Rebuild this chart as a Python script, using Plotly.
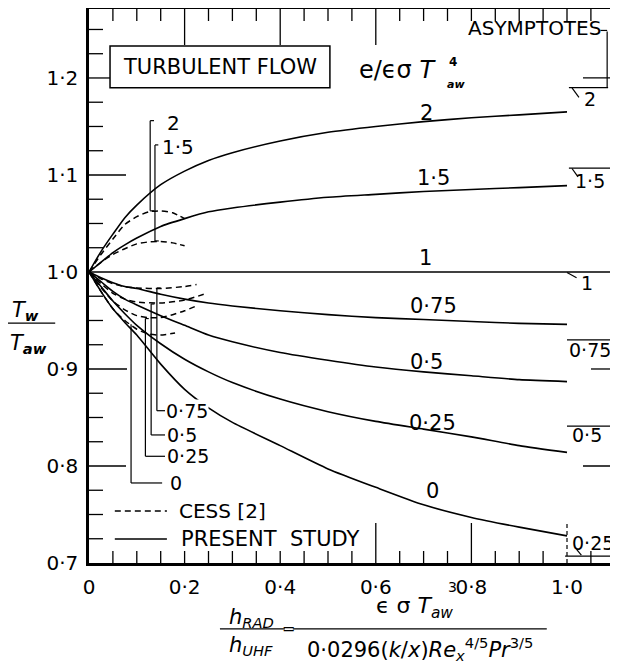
import plotly.graph_objects as go

# ---------------- data ----------------
X = [0, 0.025, 0.05, 0.075, 0.1, 0.15, 0.2, 0.25, 0.3, 0.4, 0.5, 0.6, 0.7, 0.8, 0.9, 1.0]
PS_2 = [1.0, 1.021, 1.039, 1.056, 1.069, 1.090, 1.104, 1.115, 1.123, 1.135, 1.144, 1.150, 1.155, 1.159, 1.162, 1.165]
PS_15 = [1.0, 1.010, 1.020, 1.028, 1.035, 1.047, 1.055, 1.062, 1.066, 1.072, 1.077, 1.080, 1.083, 1.085, 1.087, 1.089]
PS_1 = [1.0, 1.0, 1.0, 1.0, 1.0, 1.0, 1.0, 1.0, 1.0, 1.0, 1.0, 1.0, 1.0, 1.0, 1.0, 1.0]
PS_075 = [1.0, 0.994, 0.989, 0.985, 0.983, 0.977, 0.972, 0.968, 0.965, 0.960, 0.956, 0.953, 0.951, 0.949, 0.947, 0.946]
PS_05 = [1.0, 0.990, 0.980, 0.972, 0.966, 0.955, 0.945, 0.935, 0.928, 0.917, 0.909, 0.902, 0.897, 0.893, 0.889, 0.887]
PS_025 = [1.0, 0.985, 0.970, 0.957, 0.945, 0.926, 0.910, 0.897, 0.886, 0.869, 0.856, 0.846, 0.838, 0.830, 0.821, 0.814]
PS_0 = [1.0, 0.980, 0.962, 0.948, 0.935, 0.905, 0.879, 0.860, 0.845, 0.821, 0.797, 0.778, 0.760, 0.747, 0.737, 0.728]
PS_LABELS = ["2", "1·5", "1", "0·75", "0·5", "0·25", "0"]
PS_LABEL_X = [0.707, 0.72, 0.705, 0.72, 0.707, 0.718, 0.718]
PS_LABEL_Y = [1.164, 1.097, 1.0144, 0.965, 0.907, 0.844, 0.774]

CX_2 = [0, 0.025, 0.05, 0.075, 0.1, 0.125, 0.15, 0.175, 0.2]
CESS_2 = [1.0, 1.018, 1.034, 1.049, 1.057, 1.062, 1.063, 1.061, 1.055]
CX_15 = [0, 0.025, 0.05, 0.075, 0.1, 0.125, 0.15, 0.175, 0.2]
CESS_15 = [1.0, 1.010, 1.018, 1.024, 1.029, 1.031, 1.0315, 1.030, 1.027]
CX_075 = [0, 0.025, 0.05, 0.075, 0.1, 0.15, 0.2, 0.225]
CESS_075 = [1.0, 0.993, 0.988, 0.985, 0.9835, 0.983, 0.985, 0.987]
CX_05 = [0, 0.025, 0.05, 0.075, 0.1, 0.15, 0.2, 0.24]
CESS_05 = [1.0, 0.988, 0.978, 0.972, 0.969, 0.968, 0.971, 0.977]
CX_025 = [0, 0.025, 0.05, 0.075, 0.1, 0.125, 0.15, 0.175, 0.2, 0.225]
CESS_025 = [1.0, 0.984, 0.970, 0.961, 0.955, 0.953, 0.953, 0.956, 0.960, 0.965]
CX_0 = [0, 0.025, 0.05, 0.075, 0.1, 0.125, 0.15, 0.18]
CESS_0 = [1.0, 0.980, 0.962, 0.950, 0.941, 0.936, 0.935, 0.937]

ASYM_VALUES = [1.19, 1.107, 1.0, 0.930, 0.841, 0.707]
ASYM_LABELS = ["2", "1·5", "1", "0·75", "0·5", "0·25"]

X_TICKS = [0, 0.2, 0.4, 0.6, 0.8, 1.0]
X_TICK_TEXT = ["0", "0·2", "0·4", "0·6", "0·8", "1·0"]
Y_TICKS = [0.7, 0.8, 0.9, 1.0, 1.1, 1.2]
Y_TICK_TEXT = ["0·7", "0·8", "0·9", "1·0", "1·1", "1·2"]

XMAX = 1.1046
YMIN, YMAX = 0.7, 1.2711
FONT = "DejaVu Sans"
BLK = "black"

fig = go.Figure()

for ys in [PS_2, PS_15, PS_1, PS_075, PS_05, PS_025, PS_0]:
    fig.add_trace(go.Scatter(x=X, y=ys, mode="lines", line=dict(color=BLK, width=1.6, shape="spline", smoothing=0.6),
                             showlegend=False, hoverinfo="skip"))
for cx, cy in [(CX_2, CESS_2), (CX_15, CESS_15), (CX_075, CESS_075), (CX_05, CESS_05), (CX_025, CESS_025), (CX_0, CESS_0)]:
    fig.add_trace(go.Scatter(x=cx, y=cy, mode="lines",
                             line=dict(color=BLK, width=1.5, dash="6px,4px", shape="spline", smoothing=0.6),
                             showlegend=False, hoverinfo="skip"))

shapes = []
def seg(x0, y0, x1, y1, w=1.2, dash=None, ref="data"):
    d = dict(type="line", x0=x0, y0=y0, x1=x1, y1=y1, line=dict(color=BLK, width=w))
    if dash:
        d["line"]["dash"] = dash
    if ref == "data":
        d.update(xref="x", yref="y")
    else:
        d.update(xref="paper", yref="paper")
    shapes.append(d)

# ticks: x every 0.05 (bottom and top), y every 0.025 (left and right)
xt = [round(0.05 * i, 3) for i in range(1, 23)]
for v in xt:
    lb = 40 if v in (0.6, 0.8) else 12
    lt = 36 if v in (0.2, 0.4, 0.6) else 12
    if v == 1.0:
        continue
    shapes.append(dict(type="line", xref="x", yref="y", x0=v, x1=v, ysizemode="pixel", yanchor=YMIN, y0=0, y1=lb,
                       line=dict(color=BLK, width=1.3)))
    shapes.append(dict(type="line", xref="x", yref="y", x0=v, x1=v, ysizemode="pixel", yanchor=YMAX, y0=0, y1=-lt,
                       line=dict(color=BLK, width=1.3)))
shapes.append(dict(type="line", xref="x", yref="y", x0=1.0, x1=1.0, ysizemode="pixel", yanchor=YMAX, y0=0, y1=-12,
                   line=dict(color=BLK, width=1.3)))
seg(1.0, 0.7, 1.0, 0.743, w=1.2, dash="4px,3px")

yt = [round(0.7 + 0.025 * i, 4) for i in range(1, 23)]
for v in yt:
    if v == 1.0:
        continue
    ll = {1.1: 37, 0.9: 38, 0.8: 37, 1.2: 21}.get(v, 14)
    lr = {1.2: 34, 0.9: 26, 0.8: 34}.get(v, 7)
    shapes.append(dict(type="line", xref="x", yref="y", y0=v, y1=v, xsizemode="pixel", xanchor=0, x0=0, x1=ll,
                       line=dict(color=BLK, width=1.3)))
    shapes.append(dict(type="line", xref="x", yref="y", y0=v, y1=v, xsizemode="pixel", xanchor=XMAX, x0=0, x1=-lr,
                       line=dict(color=BLK, width=1.3)))

# TURBULENT FLOW box
shapes.append(dict(type="rect", xref="x", yref="y", x0=0.044, x1=0.504, y0=1.19, y1=1.233,
                   line=dict(color=BLK, width=1.5), fillcolor="white"))

# brackets for labels
brackets = [
    (0.128, 1.063, 1.156, 0.136, 0.136),
    (0.138, 1.032, 1.131, 0.146, 0.145),
]
for x, yb, yt_, xb, xtp in brackets:
    seg(x, yb, x, yt_)
    seg(x, yb, xb, yb)
    seg(x, yt_, xtp, yt_)
low_brackets = [
    (0.142, 0.9835, 0.857, 0.150),
    (0.130, 0.967, 0.832, 0.137),
    (0.118, 0.952, 0.810, 0.125),
    (0.088, 0.946, 0.7825, None),
]
for x, ytop, ybot, hook in low_brackets:
    seg(x, ytop, x, ybot)
    seg(x, ybot, 0.159 if hook else 0.153, ybot)
    if hook:
        seg(x, ytop, hook, ytop)

# asymptote markers
asym_x0 = [1.004, 1.004, 1.0, 1.0, 1.0, 0.996]
asym_x1 = [1.086, XMAX, XMAX, XMAX, XMAX, XMAX]
for v, a, b in zip(ASYM_VALUES, asym_x0, asym_x1):
    seg(a, v, b, v, w=1.3)
# slanted ticks
seg(1.0105, 1.1897, 1.025, 1.180)
seg(1.0105, 1.1067, 1.023, 1.098)
seg(1.0, 0.9995, 1.02, 0.994)
seg(1.02, 0.714, 1.03, 0.708)
# ASYMPTOTES bracket
seg(1.084, 1.248, 1.084, 1.19)
seg(1.07, 1.249, 1.084, 1.249)

# legend lines
seg(0.054, 0.7536, 0.163, 0.7536, w=1.4, dash="6px,4px")
seg(0.054, 0.7247, 0.163, 0.7247, w=1.4)

# x-title fraction bars (paper)
seg(0.248, -0.119, 0.371, -0.119, w=1.2, ref="paper")
seg(0.386, -0.119, 0.867, -0.119, w=1.2, ref="paper")
# y-title bar
seg(-0.159, 0.433, -0.064, 0.433, w=1.2, ref="paper")

ann = []
def txt(t, x, y, size=20, xa="center", ya="middle", ref="data", bg=None, yshift=0):
    a = dict(text=t, x=x, y=y, showarrow=False, xanchor=xa, yanchor=ya,
             font=dict(family=FONT, size=size, color=BLK), yshift=yshift)
    if ref == "data":
        a.update(xref="x", yref="y")
    else:
        a.update(xref="paper", yref="paper")
    if bg:
        a.update(bgcolor=bg, borderpad=0)
    ann.append(a)

for t, x, y in zip(PS_LABELS, PS_LABEL_X, PS_LABEL_Y):
    txt(t, x, y, size=21)

txt("TURBULENT FLOW", 0.274, 1.2115, size=21)
txt("e/ϵσ <i>T</i>", 0.645, 1.208, size=24)
txt("<b>4</b>", 0.762, 1.216, size=12)
txt("<b><i>aw</i></b>", 0.767, 1.193, size=11)
txt("ASYMPTOTES", 0.933, 1.2515, size=20)

# bracket labels
txt("2", 0.159, 1.1536, size=20, xa="left")
txt("1·5", 0.1485, 1.129, size=20, xa="left")
txt("0·75", 0.159, 0.857, size=19, xa="left", bg="white")
txt("0·5", 0.159, 0.832, size=19, xa="left")
txt("0·25", 0.159, 0.810, size=19, xa="left")
txt("0", 0.166, 0.7825, size=19, xa="left")

# asymptote labels
asym_lx = [1.048, 1.048, 1.042, 1.048, 1.042, 1.054]
asym_shift = [-11, -13, -11, -10, -9, 13]
for t, v, lx, sh in zip(ASYM_LABELS, ASYM_VALUES, asym_lx, asym_shift):
    txt(t, lx, v, size=19, yshift=sh)

# legend texts
txt("CESS [2]", 0.184, 0.7536, size=20, xa="left")
txt("PRESENT  STUDY", 0.188, 0.7247, size=21, xa="left")

# y-axis title
txt("<i>T</i><sub><b><i>w</i></b></sub>", -0.121, 0.455, size=21, ref="paper")
txt("<i>T</i><sub><b><i>aw</i></b></sub>", -0.115, 0.395, size=21, ref="paper")

# x-axis title
txt("<i>h</i><sub><i>RAD</i></sub>", 0.307, -0.100, size=21, ref="paper")
txt("<i>h</i><sub><i>UHF</i></sub>", 0.307, -0.150, size=21, ref="paper")
txt("=", 0.378, -0.119, size=16, ref="paper")
txt("ϵ σ <i>T</i><sub><i>aw</i></sub>", 0.616, -0.080, size=22, ref="paper")
txt("3", 0.688, -0.043, size=14, ref="paper")
txt("0·0296(<i>k</i>/<i>x</i>)<i>Re</i><sub><i>x</i></sub><sup>4/5</sup><i>Pr</i><sup>3/5</sup>", 0.627, -0.155, size=21, ref="paper")

# page has an 8px body margin: figure is sized/offset so the plot area lands where the reference has it
fig.update_layout(
    width=610, height=657, autosize=False,
    margin=dict(l=81, r=1, t=1, b=102, autoexpand=False),
    paper_bgcolor="white", plot_bgcolor="white",
    showlegend=False,
    shapes=shapes, annotations=ann,
    font=dict(family=FONT, color=BLK),
)
fig.update_xaxes(range=[0, XMAX], showline=True, linewidth=2.5, linecolor=BLK, mirror=True, ticks="",
                 tickvals=X_TICKS, ticktext=X_TICK_TEXT, tickfont=dict(family=FONT, size=20, color=BLK),
                 showgrid=False, zeroline=False, ticklabelstandoff=4, automargin=False)
fig.update_yaxes(range=[YMIN, YMAX], showline=True, linewidth=2.5, linecolor=BLK, mirror=True, ticks="",
                 tickvals=Y_TICKS, ticktext=Y_TICK_TEXT, tickfont=dict(family=FONT, size=20, color=BLK),
                 showgrid=False, zeroline=False, ticklabelstandoff=4, automargin=False)

fig.write_html("out.html")
